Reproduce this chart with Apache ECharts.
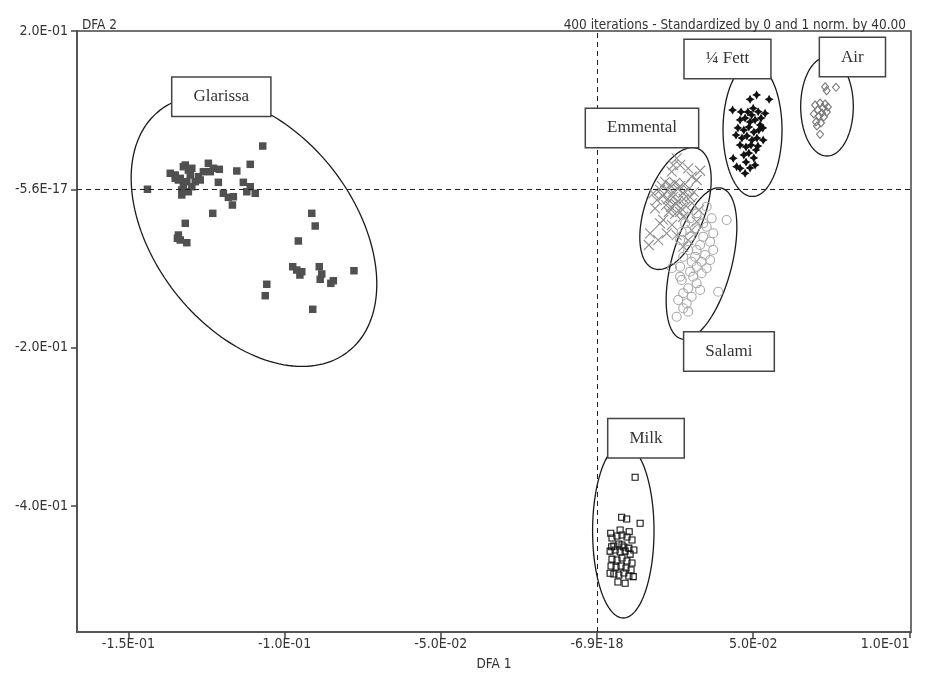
<!DOCTYPE html>
<html>
<head>
<meta charset="utf-8">
<script src="https://cdn.jsdelivr.net/npm/echarts@6/dist/echarts.min.js"></script>
<style>
html,body{margin:0;padding:0;background:#fff;}
#chart{width:925px;height:677px;}
</style>
</head>
<body>
<div id="chart"></div>
<script>
// ---- Axis ticks ----
const xTickValues = [-0.15, -0.10, -0.05, 0, 0.05, 0.10];
const xTickLabels = ['-1.5E-01', '-1.0E-01', '-5.0E-02', '-6.9E-18', '5.0E-02', '1.0E-01'];
const yTickValues = [0.2, 0, -0.2, -0.4];
const yTickLabels = ['2.0E-01', '-5.6E-17', '-2.0E-01', '-4.0E-01'];

// ---- Group names ----
const groupNames = ['Glarissa', 'Emmental', 'Salami', '¼ Fett', 'Air', 'Milk'];

// ---- Scores (DFA 1, DFA 2) ----
const glarissa = [
  [-0.1070,0.0549],[-0.1439,0.0003],[-0.1110,0.0318],[-0.1153,0.0234],[-0.1212,0.0091],
  [-0.1132,0.0091],[-0.1110,0.0035],[-0.1121,-0.0028],[-0.1094,-0.0048],[-0.1196,-0.0048],
  [-0.1180,-0.0099],[-0.1164,-0.0091],[-0.1167,-0.0196],[-0.1230,-0.0301],[-0.1318,-0.0427],
  [-0.1340,-0.0575],[-0.1334,-0.0638],[-0.1313,-0.0672],[-0.1343,-0.0616],[-0.0913,-0.0301],
  [-0.0902,-0.0461],[-0.0956,-0.0650],[-0.0974,-0.0975],[-0.0961,-0.1017],[-0.0951,-0.1080],
  [-0.0945,-0.1038],[-0.0889,-0.0975],[-0.0881,-0.1067],[-0.0886,-0.1134],[-0.0852,-0.1185],
  [-0.0844,-0.1152],[-0.0778,-0.1026],[-0.1057,-0.1197],[-0.1062,-0.1341],[-0.0910,-0.1513],
  [-0.1366,0.0205],[-0.1350,0.0183],[-0.1334,0.0141],[-0.1324,0.0288],[-0.1318,0.0309],
  [-0.1308,0.0246],[-0.1297,0.0268],[-0.1302,0.0183],[-0.1313,0.0099],[-0.1324,0.0057],
  [-0.1329,-0.0006],[-0.1329,-0.0069],[-0.1308,-0.0028],[-0.1297,0.0035],[-0.1286,0.0099],
  [-0.1276,0.0162],[-0.1260,0.0225],[-0.1244,0.0331],[-0.1238,0.0225],[-0.1228,0.0268],
  [-0.1209,0.0255],[-0.1270,0.0120],[-0.1340,0.0120],[-0.1350,0.0141]
];
const emmental = [
  [0.0255,0.0394],[0.0266,0.0309],[0.0330,0.0237],[0.0239,0.0225],[0.0303,0.0162],
  [0.0319,0.0120],[0.0244,0.0309],[0.0292,0.0268],[0.0218,0.0095],[0.0234,0.0057],
  [0.0250,0.0082],[0.0266,0.0044],[0.0282,0.0069],[0.0227,-0.0006],[0.0243,-0.0032],
  [0.0259,0.0006],[0.0275,-0.0044],[0.0291,-0.0006],[0.0211,-0.0082],[0.0227,-0.0120],
  [0.0243,-0.0095],[0.0259,-0.0145],[0.0278,-0.0120],[0.0298,-0.0095],[0.0221,-0.0196],
  [0.0237,-0.0221],[0.0253,-0.0183],[0.0269,-0.0234],[0.0285,-0.0208],[0.0304,-0.0171],
  [0.0230,-0.0284],[0.0250,-0.0309],[0.0266,-0.0284],[0.0202,-0.0006],[0.0192,-0.0133],
  [0.0310,-0.0032],[0.0208,0.0044],[0.0186,-0.0237],[0.0180,-0.0048],[0.0202,-0.0427],
  [0.0212,-0.0385],[0.0170,-0.0553],[0.0196,-0.0638],[0.0166,-0.0701],[0.0223,-0.0553],
  [0.0303,-0.0512],[0.0319,-0.0407],[0.0292,-0.0638],[0.0276,-0.0722],[0.0255,-0.0575],
  [0.0276,-0.0344],[0.0240,-0.0448],[0.0326,-0.0259]
];
const salami = [
  [0.0415,-0.0385],[0.0367,-0.0364],[0.0351,-0.0470],[0.0372,-0.0553],[0.0340,-0.0596],
  [0.0362,-0.0659],[0.0372,-0.0764],[0.0346,-0.0827],[0.0335,-0.0912],[0.0319,-0.0975],
  [0.0335,-0.1058],[0.0308,-0.1101],[0.0319,-0.1185],[0.0292,-0.1248],[0.0276,-0.1311],
  [0.0303,-0.1354],[0.0287,-0.1437],[0.0266,-0.0975],[0.0388,-0.1291],[0.0255,-0.1607],
  [0.0292,-0.1543],[0.0276,-0.1500],[0.0319,-0.0764],[0.0314,-0.0849],[0.0330,-0.0701],
  [0.0298,-0.0596],[0.0314,-0.0490],[0.0298,-0.0364],[0.0282,-0.0427],[0.0340,-0.0427],
  [0.0271,-0.0533],[0.0266,-0.0638],[0.0351,-0.0217],[0.0319,-0.0301],[0.0292,-0.0764],
  [0.0276,-0.0849],[0.0303,-0.0912],[0.0351,-0.0995],[0.0298,-0.1038],[0.0271,-0.1143],
  [0.0330,-0.1269],[0.0260,-0.1396],[0.0266,-0.1101],[0.0362,-0.0890],[0.0240,-0.0991]
];
const fett = [
  [0.0511,0.1194],[0.0490,0.1139],[0.0551,0.1139],[0.0434,0.1004],[0.0500,0.1026],
  [0.0495,0.0941],[0.0516,0.0983],[0.0538,0.0962],[0.0532,0.0625],[0.0436,0.0394],
  [0.0447,0.0288],[0.0474,0.0205],[0.0458,0.0268],[0.0506,0.0309],[0.0458,0.0878],
  [0.0474,0.0903],[0.0490,0.0853],[0.0506,0.0878],[0.0522,0.0815],[0.0451,0.0777],
  [0.0470,0.0751],[0.0486,0.0789],[0.0502,0.0726],[0.0518,0.0751],[0.0464,0.0650],
  [0.0480,0.0676],[0.0496,0.0625],[0.0512,0.0650],[0.0458,0.0562],[0.0477,0.0537],
  [0.0493,0.0562],[0.0509,0.0499],[0.0470,0.0436],[0.0486,0.0461],[0.0502,0.0398],
  [0.0525,0.0903],[0.0445,0.0688],[0.0531,0.0777],[0.0483,0.0979],[0.0461,0.0979],
  [0.0515,0.0549],[0.0477,0.0347],[0.0490,0.0272]
];
const air = [
  [0.0730,0.1298],[0.0765,0.1291],[0.0735,0.1248],[0.0714,0.0697],[0.0698,0.1067],
  [0.0714,0.1093],[0.0730,0.1080],[0.0707,0.1004],[0.0723,0.1029],[0.0736,0.0979],
  [0.0694,0.0954],[0.0710,0.0928],[0.0726,0.0916],[0.0701,0.0853],[0.0717,0.0840],
  [0.0739,0.1042],[0.0704,0.0802],[0.0720,0.0966]
];
const milk = [
  [0.0122,-0.3635],[0.0079,-0.4140],[0.0095,-0.4162],[0.0138,-0.4216],[0.0047,-0.4512],
  [0.0042,-0.4847],[0.0116,-0.4890],[0.0090,-0.4974],[0.0044,-0.4342],[0.0103,-0.4322],
  [0.0048,-0.4402],[0.0064,-0.4376],[0.0080,-0.4364],[0.0096,-0.4389],[0.0112,-0.4427],
  [0.0054,-0.4503],[0.0070,-0.4478],[0.0086,-0.4516],[0.0102,-0.4529],[0.0118,-0.4554],
  [0.0042,-0.4567],[0.0058,-0.4554],[0.0074,-0.4579],[0.0090,-0.4567],[0.0106,-0.4605],
  [0.0048,-0.4668],[0.0064,-0.4680],[0.0080,-0.4655],[0.0096,-0.4693],[0.0112,-0.4718],
  [0.0045,-0.4756],[0.0061,-0.4769],[0.0077,-0.4756],[0.0093,-0.4781],[0.0109,-0.4806],
  [0.0054,-0.4857],[0.0070,-0.4869],[0.0086,-0.4844],[0.0102,-0.4882],[0.0067,-0.4958],
  [0.0080,-0.4491],[0.0074,-0.4301]
];

// ---- Confidence ellipses: centre + two conjugate semi-axes (data units), in order of groupNames ----
const ellipseCenters = [[-0.1098,-0.0524],[0.02513,-0.0240],[0.03345,-0.0935],[0.04978,0.0752],[0.07362,0.1048],[0.00842,-0.4313]];
const ellipseAxisU = [[0.03016,-0.15233],[0.00701,0.07592],[0.00647,0.09512],[0.00944,0],[0.00842,0],[0.00983,0]];
const ellipseAxisV = [[-0.02522,-0.07781],[0.00902,-0.01296],[0.00928,-0.00981],[0,0.0840],[0,0.0625],[0,0.1099]];

// ---- Label anchors (data units) ----
const labelAnchors = [[-0.12026,0.1172],[0.0144,0.0777],[0.04224,-0.2046],[0.04176,0.1649],[0.08176,0.1673],[0.01568,-0.3142]];

const ellipseData = ellipseCenters.map((c, i) => [c[0], c[1], ellipseAxisU[i][0], ellipseAxisU[i][1], ellipseAxisV[i][0], ellipseAxisV[i][1]]);
const labelData = labelAnchors.map((p, i) => [p[0], p[1], i]);

const axisFont = "'DejaVu Sans Condensed', 'Liberation Sans Narrow', sans-serif";

function fmt(values, labels) {
  return function (v) {
    for (let i = 0; i < values.length; i++) if (Math.abs(values[i] - v) < 1e-9) return labels[i];
    return '';
  };
}

const chart = echarts.init(document.getElementById('chart'), null, {renderer: 'canvas'});
const option = {
  animation: false,
  backgroundColor: '#ffffff',
  title: [
    {text: 'DFA 2', left: 77, top: 13, textStyle: {fontFamily: axisFont, fontSize: 13.5, fontWeight: 'normal', color: '#333'}},
    {text: '400 iterations - Standardized by 0 and 1 norm. by 40.00', right: 14, top: 13, textStyle: {fontFamily: axisFont, fontSize: 13.5, fontWeight: 'normal', color: '#333'}}
  ],
  grid: {left: 77, right: 14, top: 31, bottom: 45, show: true, borderColor: '#444', borderWidth: 1.5, backgroundColor: '#fff', containLabel: false, outerBoundsMode: 'none'},
  xAxis: {
    type: 'value', min: -0.16645, max: 0.10051,
    name: 'DFA 1', nameLocation: 'middle', nameGap: 25,
    nameTextStyle: {fontFamily: axisFont, fontSize: 13.5, color: '#333'},
    splitLine: {show: false},
    axisLine: {show: true, onZero: false, lineStyle: {color: '#555', width: 2}},
    axisTick: {show: true, customValues: xTickValues, length: 6, lineStyle: {color: '#444', width: 1.5}},
    axisLabel: {customValues: xTickValues, formatter: fmt(xTickValues, xTickLabels), fontFamily: axisFont, fontSize: 14, color: '#333', margin: 5, alignMaxLabel: 'right'}
  },
  yAxis: {
    type: 'value', min: -0.5589, max: 0.2002,
    splitLine: {show: false},
    axisLine: {show: true, onZero: false, lineStyle: {color: '#555', width: 2}},
    axisTick: {show: true, customValues: yTickValues, length: 6, lineStyle: {color: '#444', width: 1.5}},
    axisLabel: {customValues: yTickValues, formatter: fmt(yTickValues, yTickLabels), fontFamily: axisFont, fontSize: 14, color: '#333', margin: 9}
  },
  series: [
    {
      type: 'scatter', data: [], z: 1, silent: true,
      markLine: {
        silent: true, symbol: ['none', 'none'], animation: false,
        label: {show: false},
        lineStyle: {type: [5, 4], color: '#222', width: 1},
        emphasis: {disabled: true},
        data: [{xAxis: 0}, {yAxis: 0}]
      }
    },
    {
      type: 'custom', name: 'ellipses', z: 2, silent: true,
      data: ellipseData,
      encode: {x: 0, y: 1},
      renderItem: function (params, api) {
        const cx = api.value(0), cy = api.value(1), ux = api.value(2), uy = api.value(3), vx = api.value(4), vy = api.value(5);
        const pts = [];
        for (let k = 0; k < 160; k++) {
          const t = 2 * Math.PI * k / 160;
          pts.push(api.coord([cx + ux * Math.cos(t) + vx * Math.sin(t), cy + uy * Math.cos(t) + vy * Math.sin(t)]));
        }
        return {type: 'polygon', shape: {points: pts}, style: {fill: 'none', stroke: '#1a1a1a', lineWidth: 1.3}};
      }
    },
    {name: groupNames[0], type: 'scatter', z: 3, data: glarissa, symbol: 'rect', symbolSize: 7.5, itemStyle: {color: '#505050', opacity: 1}},
    {name: groupNames[1], type: 'scatter', z: 3, data: emmental, symbol: 'path://M0,0L10,10M10,0L0,10', symbolSize: 10,
      itemStyle: {color: 'rgba(0,0,0,0)', borderColor: '#8f8f8f', borderWidth: 1.1, opacity: 1}},
    {name: groupNames[2], type: 'scatter', z: 3, data: salami, symbol: 'circle', symbolSize: 9,
      itemStyle: {color: 'rgba(255,255,255,0)', borderColor: '#a8a8a8', borderWidth: 1.1, opacity: 1}},
    {name: groupNames[3], type: 'scatter', z: 3, data: fett, symbol: 'path://M5,0L6.8,3.2L10,5L6.8,6.8L5,10L3.2,6.8L0,5L3.2,3.2Z', symbolSize: 9,
      itemStyle: {color: '#111', opacity: 1}},
    {name: groupNames[4], type: 'scatter', z: 3, data: air, symbol: 'diamond', symbolSize: [7, 8],
      itemStyle: {color: 'rgba(255,255,255,0)', borderColor: '#7a7a7a', borderWidth: 1.1, opacity: 1}},
    {name: groupNames[5], type: 'scatter', z: 3, data: milk, symbol: 'rect', symbolSize: 6,
      itemStyle: {color: 'rgba(255,255,255,0)', borderColor: '#111', borderWidth: 1.1, opacity: 1}},
    {
      type: 'custom', name: 'labels', z: 10, silent: true,
      data: labelData,
      encode: {x: 0, y: 1},
      renderItem: function (params, api) {
        const p = api.coord([api.value(0), api.value(1)]);
        const name = groupNames[api.value(2)];
        return {
          type: 'text', x: p[0], y: p[1],
          style: {
            text: name, font: "17px 'Liberation Serif', 'Times New Roman', serif", fill: '#333',
            align: 'center', verticalAlign: 'middle', lineHeight: 18,
            backgroundColor: '#fff', borderColor: '#444', borderWidth: 1.5,
            padding: [10, 21, 10, 21]
          }
        };
      }
    }
  ]
};
chart.setOption(option);
</script>
</body>
</html>
